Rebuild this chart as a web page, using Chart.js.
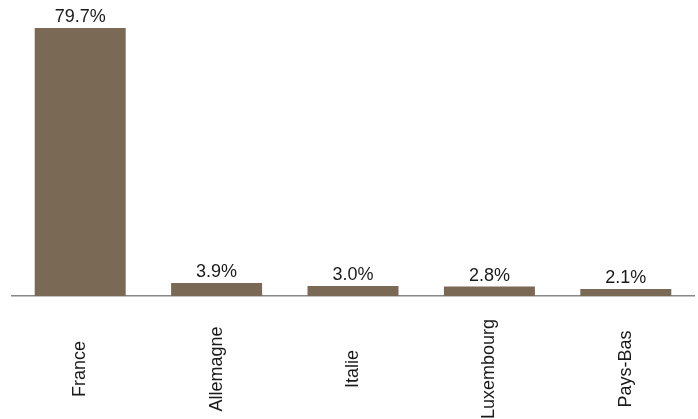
<!DOCTYPE html>
<html lang="fr">
<head>
  <meta charset="UTF-8" />
  <title>Répartition par pays</title>
  <script src="https://cdn.jsdelivr.net/npm/chart.js"></script>
  <style>
    body { margin: 0; padding: 0; background: #fff; }
    #wrap { width: 698px; height: 419px; position: relative; }
  </style>
</head>
<body>
<div id="wrap"><canvas id="chart"></canvas></div>
<script>
// data
const countries = ['France', 'Allemagne', 'Italie', 'Luxembourg', 'Pays-Bas'];
const shares = [79.7, 3.9, 3.0, 2.8, 2.1];

const barColor = '#7a6a55';
const fontFamily = 'Arial, "Liberation Sans", sans-serif';

// value labels above each bar
const valueLabels = {
  id: 'valueLabels',
  afterDatasetsDraw(chart) {
    const ctx = chart.ctx;
    const meta = chart.getDatasetMeta(0);
    ctx.save();
    ctx.font = '18px ' + fontFamily;
    ctx.fillStyle = '#1a1a1a';
    ctx.textAlign = 'center';
    ctx.textBaseline = 'bottom';
    meta.data.forEach((bar, i) => {
      ctx.fillText(shares[i].toFixed(1) + '%', bar.x, bar.y - 2);
    });
    ctx.restore();
  }
};

// category names, rotated and centred under the axis
const rotatedTicks = {
  id: 'rotatedTicks',
  afterDraw(chart) {
    const ctx = chart.ctx;
    const x = chart.scales.x;
    ctx.save();
    ctx.font = '18px ' + fontFamily;
    ctx.fillStyle = '#1a1a1a';
    ctx.textAlign = 'center';
    ctx.textBaseline = 'middle';
    countries.forEach((name, i) => {
      ctx.save();
      ctx.translate(x.getPixelForValue(i), 369);
      ctx.rotate(-Math.PI / 2);
      ctx.fillText(name, 0, 0);
      ctx.restore();
    });
    ctx.restore();
  }
};

new Chart(document.getElementById('chart'), {
  type: 'bar',
  data: {
    labels: countries,
    datasets: [{
      data: shares,
      backgroundColor: barColor,
      borderWidth: 0,
      barPercentage: 0.667,
      categoryPercentage: 1
    }]
  },
  options: {
    responsive: true,
    maintainAspectRatio: false,
    animation: false,
    layout: { padding: { top: 27, bottom: 115, left: 12, right: 4 } },
    plugins: { legend: { display: false }, tooltip: { enabled: false } },
    scales: {
      x: {
        grid: { display: false },
        border: { display: true, color: '#888', width: 1.5 },
        ticks: { display: false }
      },
      y: {
        display: false,
        min: 0,
        max: 80
      }
    }
  },
  plugins: [valueLabels, rotatedTicks]
});
</script>
</body>
</html>
